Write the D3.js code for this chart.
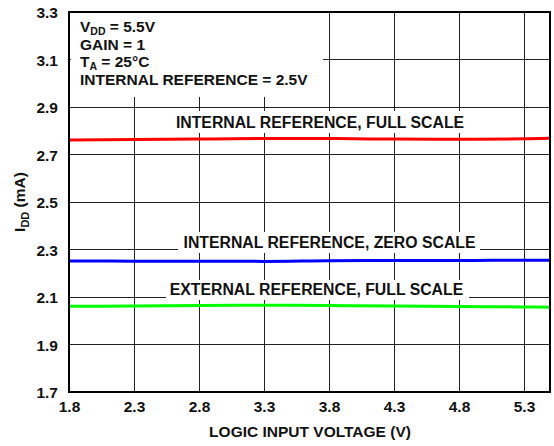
<!DOCTYPE html>
<html>
<head>
<meta charset="utf-8">
<script src="https://cdn.jsdelivr.net/npm/d3@7"></script>
<style>
  html, body { margin: 0; padding: 0; background: #fff; }
  svg { display: block; }
  text { font-family: "Liberation Sans", Arial, sans-serif; font-weight: bold; fill: #111; }
</style>
</head>
<body>
<svg id="chart" width="554" height="446"></svg>
<script>
// ---- data ----
const xTicks = [1.8, 2.3, 2.8, 3.3, 3.8, 4.3, 4.8, 5.3];
const yTicks = [1.7, 1.9, 2.1, 2.3, 2.5, 2.7, 2.9, 3.1, 3.3];
const voltage = [1.8, 2.3, 2.8, 3.3, 3.8, 4.3, 4.8, 5.3, 5.5];
const intFullScale = [2.761, 2.763, 2.765, 2.767, 2.767, 2.765, 2.764, 2.766, 2.768];
const intZeroScale = [2.252, 2.251, 2.251, 2.250, 2.253, 2.254, 2.254, 2.255, 2.255];
const extFullScale = [2.061, 2.062, 2.064, 2.065, 2.064, 2.062, 2.060, 2.058, 2.057];
const seriesNames = ["INTERNAL REFERENCE, FULL SCALE", "INTERNAL REFERENCE, ZERO SCALE", "EXTERNAL REFERENCE, FULL SCALE"];
const conditions = ["V|DD| = 5.5V", "GAIN = 1", "T|A| = 25°C", "INTERNAL REFERENCE = 2.5V"];

const W = 554, H = 446;
const m = { left: 69, top: 12, right: 4, bottom: 54 };
const iw = W - m.left - m.right, ih = H - m.top - m.bottom;

const svg = d3.select("#chart");
const g = svg.append("g").attr("transform", `translate(${m.left},${m.top})`);

const x = d3.scaleLinear().domain([1.8, 5.5]).range([0, iw]);
const y = d3.scaleLinear().domain([1.7, 3.3]).range([ih, 0]);

// grid
g.append("g").selectAll("line").data(xTicks.slice(1)).join("line")
  .attr("x1", d => x(d)).attr("x2", d => x(d)).attr("y1", 0).attr("y2", ih)
  .attr("stroke", "#222").attr("stroke-width", 1).attr("shape-rendering", "crispEdges");
g.append("g").selectAll("line").data(yTicks.slice(1, -1)).join("line")
  .attr("x1", 0).attr("x2", iw).attr("y1", d => y(d)).attr("y2", d => y(d))
  .attr("stroke", "#222").attr("stroke-width", 1).attr("shape-rendering", "crispEdges");

// axes (labels only)
const xAxis = g.append("g").attr("transform", `translate(0,${ih})`)
  .call(d3.axisBottom(x).tickValues(xTicks).tickFormat(d3.format(".1f")).tickSize(0).tickPadding(9));
const yAxis = g.append("g")
  .call(d3.axisLeft(y).tickValues(yTicks).tickFormat(d3.format(".1f")).tickSize(0).tickPadding(11));
[xAxis, yAxis].forEach(a => {
  a.select(".domain").remove();
  a.selectAll("text").attr("font-size", 15.5).attr("font-family", "Liberation Sans, Arial, sans-serif")
    .attr("font-weight", "bold").attr("fill", "#111");
});
yAxis.selectAll("text").attr("dy", "0.36em");
xAxis.selectAll("text").attr("dy", "0.71em");

// conditions box (white, covers grid)
g.append("rect").attr("x", 2).attr("y", 1).attr("width", 252).attr("height", 84).attr("fill", "#fff");
const condBase = [20, 38, 54.5, 72.5];
conditions.forEach((c, i) => {
  const parts = c.split("|");
  const t = g.append("text").attr("x", 11).attr("y", condBase[i]).attr("font-size", 15.5);
  t.append("tspan").text(parts[0]);
  if (parts.length > 1) {
    t.append("tspan").text(parts[1]).attr("font-size", 10.5).attr("dy", 3);
    t.append("tspan").text(parts[2]).attr("dy", -3);
  }
});

// series label boxes
const labelInfo = [
  { cx: 320, base: 128, x0: 170, x1: 470, y0: 111, y1: 133 },
  { cx: 329.5, base: 248, x0: 178, x1: 480, y0: 232, y1: 253 },
  { cx: 316.5, base: 295, x0: 166, x1: 469, y0: 280, y1: 300 }
];
labelInfo.forEach((L, i) => {
  svg.append("rect").attr("x", L.x0).attr("y", L.y0).attr("width", L.x1 - L.x0).attr("height", L.y1 - L.y0).attr("fill", "#fff");
  svg.append("text").attr("x", L.cx).attr("y", L.base).attr("text-anchor", "middle")
    .attr("font-size", 15.8).text(seriesNames[i]);
});

// series lines
const line = d3.line().x((d, i) => x(voltage[i])).y(d => y(d)).curve(d3.curveMonotoneX);
[[intFullScale, "#ff0000"], [intZeroScale, "#0000ff"], [extFullScale, "#00ff00"]].forEach(([vals, col]) => {
  g.append("path").datum(vals).attr("d", line).attr("fill", "none").attr("stroke", col).attr("stroke-width", 3);
});

// frame
g.append("rect").attr("x", 0).attr("y", 0).attr("width", iw).attr("height", ih)
  .attr("fill", "none").attr("stroke", "#000").attr("stroke-width", 2);

// axis titles
svg.append("text").attr("x", 310).attr("y", 437).attr("text-anchor", "middle").attr("font-size", 15.5)
  .text("LOGIC INPUT VOLTAGE (V)");
const yt = svg.append("text").attr("transform", "translate(25,202) rotate(-90)").attr("text-anchor", "middle").attr("font-size", 15.5);
yt.append("tspan").text("I");
yt.append("tspan").text("DD").attr("font-size", 11).attr("dy", 4);
yt.append("tspan").text(" (mA)").attr("dy", -4);
</script>
</body>
</html>
